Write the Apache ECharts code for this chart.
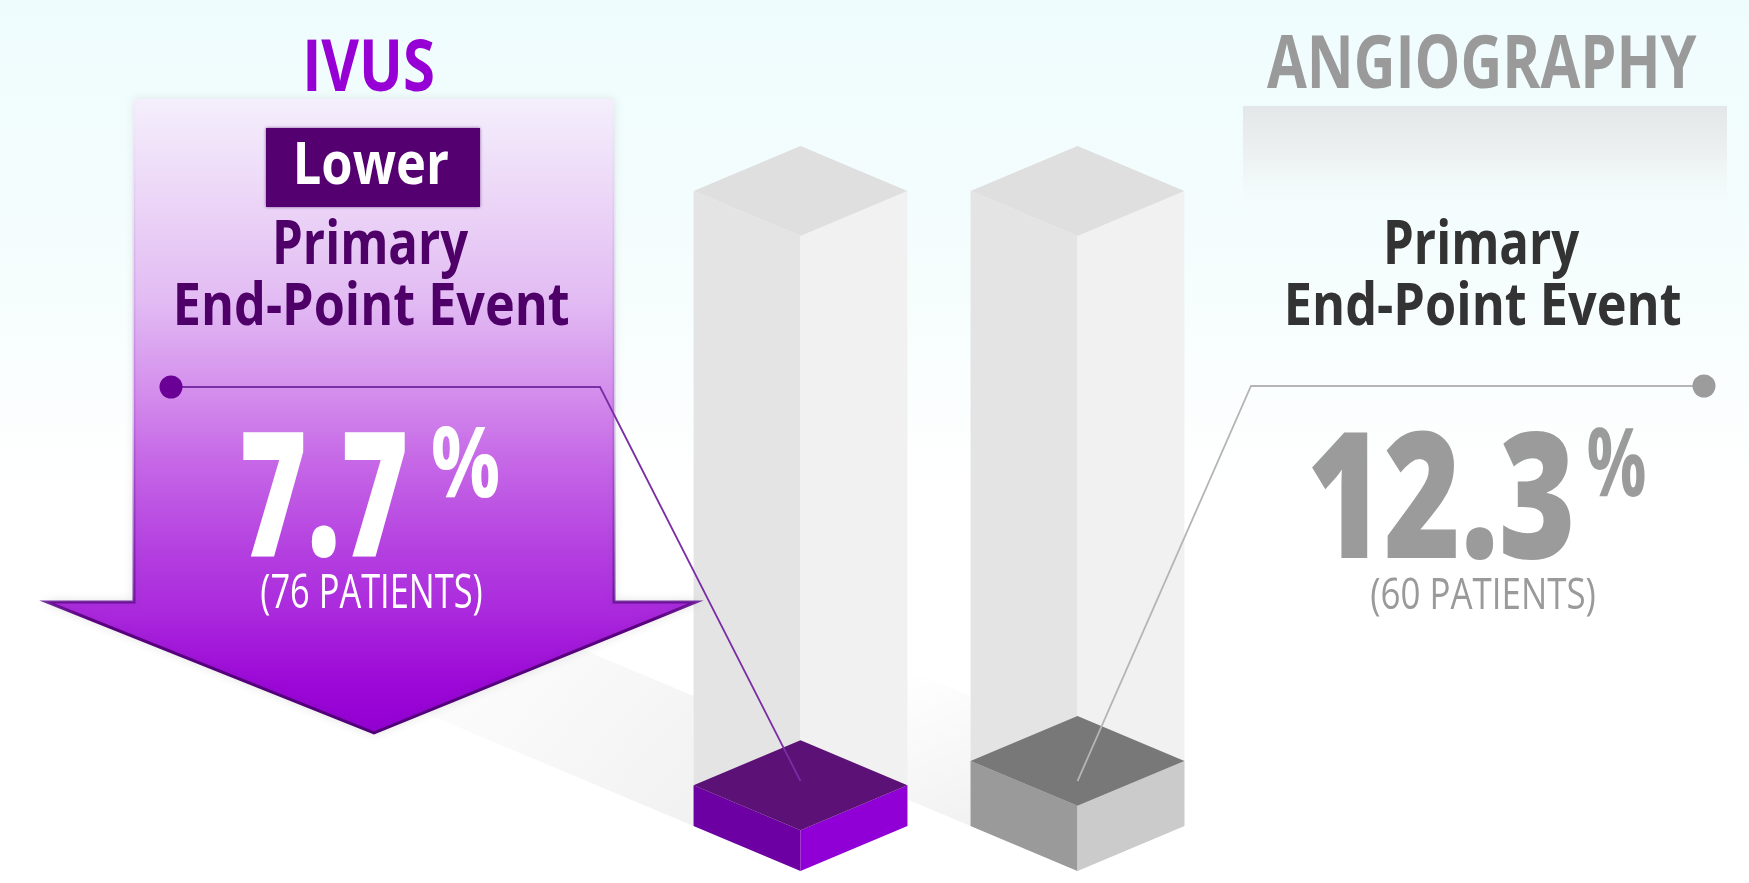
<!DOCTYPE html>
<html>
<head>
<meta charset="utf-8">
<title>IVUS vs Angiography – Primary End-Point Event</title>
<script src="https://cdn.jsdelivr.net/npm/echarts@6/dist/echarts.min.js"></script>
<style>
  html, body { margin: 0; padding: 0; background: #ffffff; }
  #chart { width: 1749px; height: 883px; }
</style>
</head>
<body>
<div id="chart"></div>
<script>
// ---- data ----
const categories = ['IVUS', 'ANGIOGRAPHY'];
const eventRates = [7.7, 12.3];          // primary end-point event rate, %
const patientCounts = [76, 60];          // patients with an event
const trackMax = 120;                    // height of the glass column on the value axis
const headingLines = ['Primary', 'End-Point Event'];
const badgeText = 'Lower';

// ---- look ----
const FONT = '"Open Sans", "Liberation Sans", "DejaVu Sans", sans-serif';
const BOX_HALF = 0.386;   // half box width as a share of the category band
const BOX_DEPTH = 0.42;   // isometric depth offset relative to half width
const slabColors = [
  { top: '#5c1176', left: '#6c00a2', right: '#9000d6' },
  { top: '#787878', left: '#9a9a9a', right: '#cbcbcb' }
];
const leaderStyle = [
  { dotX: 171, elbowX: 600, y: 387, color: '#7a2ea6', dot: '#6a0096' },
  { dotX: 1704, elbowX: 1251, y: 386, color: '#b5b5b5', dot: '#9c9c9c' }
];

const chart = echarts.init(document.getElementById('chart'), null, { renderer: 'canvas' });

// Fit a text run into an ink box (left/right/top/bottom) using a horizontal squeeze.
const mctx = document.createElement('canvas').getContext('2d');
function fitText(text, o) {
  const weight = o.weight || 700;
  const ref = o.ref || text;
  mctx.textAlign = 'left';
  mctx.textBaseline = 'alphabetic';
  mctx.font = weight + ' 100px ' + FONT;
  const r = mctx.measureText(ref);
  const h100 = r.actualBoundingBoxAscent + r.actualBoundingBoxDescent;
  const size = 100 * (o.bottom - o.top) / h100;
  const font = weight + ' ' + size.toFixed(2) + 'px ' + FONT;
  mctx.font = font;
  mctx.textBaseline = 'middle';
  const m = mctx.measureText(text);
  const rm = mctx.measureText(ref);
  const inkW = m.actualBoundingBoxLeft + m.actualBoundingBoxRight;
  const sx = (o.right - o.left) / inkW;
  return {
    type: 'text',
    x: o.left + m.actualBoundingBoxLeft * sx,
    y: o.top + rm.actualBoundingBoxAscent,
    scaleX: sx,
    z: 10,
    silent: true,
    style: {
      text: text,
      font: font,
      fill: o.color,
      textAlign: 'left',
      textVerticalAlign: 'middle'
    }
  };
}

function boxGeom(api, i, v0, v1) {
  const band = api.size([1, 0])[0];
  const hw = band * BOX_HALF;
  const dy = hw * BOX_DEPTH;
  const b = api.coord([i, v0]);
  const t = api.coord([i, v1]);
  return { cx: b[0], yb: b[1], yt: t[1], hw: hw, dy: dy, band: band };
}

function prism(g, colors) {
  const { cx, yb, yt, hw, dy } = g;
  return [
    { type: 'polygon', shape: { points: [[cx - hw, yt], [cx, yt + dy], [cx, yb + dy], [cx - hw, yb]] },
      style: { fill: colors.left } },
    { type: 'polygon', shape: { points: [[cx, yt + dy], [cx + hw, yt], [cx + hw, yb], [cx, yb + dy]] },
      style: { fill: colors.right } },
    { type: 'polygon', shape: { points: [[cx - hw, yt], [cx, yt - dy], [cx + hw, yt], [cx, yt + dy]] },
      style: { fill: colors.top } }
  ];
}

// glass column plus its floor shadow
function renderGlass(params, api) {
  const i = api.value(0);
  const g = boxGeom(api, i, 0, api.value(1));
  const slope = g.dy / g.hw;
  const len = i === 0 ? 265 : g.band - 2 * g.hw;
  const H = 130;
  const x0 = g.cx - g.hw, x1 = x0 - len;
  const shadow = {
    type: 'polygon',
    shape: { points: [[x0, g.yb], [x0, g.yb - H], [x1, g.yb - H - len * slope], [x1, g.yb - len * slope]] },
    style: {
      fill: new echarts.graphic.LinearGradient(1, 1, 0, 0, [
        { offset: 0, color: 'rgba(0,0,0,0.055)' },
        { offset: 0.55, color: 'rgba(0,0,0,0.025)' },
        { offset: 1, color: 'rgba(0,0,0,0)' }
      ])
    }
  };
  return {
    type: 'group',
    children: [shadow].concat(prism(g, { left: '#e4e4e4', right: '#f1f1f1', top: '#dfdfdf' }))
  };
}

// value slab plus the leader line that ties it to its label
function renderSlab(params, api) {
  const i = api.value(0);
  const g = boxGeom(api, i, 0, api.value(1));
  const c = slabColors[i];
  const L = leaderStyle[i];
  const back = [g.cx, g.yb - g.dy];
  const children = prism(g, c);
  children.push({
    type: 'polyline',
    shape: { points: [[L.dotX, L.y], [L.elbowX, L.y], back] },
    style: { stroke: L.color, lineWidth: 1.8, fill: null }
  });
  children.push({
    type: 'circle',
    shape: { cx: L.dotX, cy: L.y, r: 11.5 },
    style: { fill: L.dot }
  });
  return { type: 'group', children: children };
}

const pct = eventRates.map(v => v.toFixed(1));
const patientText = patientCounts.map(n => '(' + n + ' PATIENTS)');

const graphics = [
  // page background
  { type: 'rect', z: 0, silent: true, shape: { x: 0, y: 0, width: 1749, height: 883 },
    style: { fill: new echarts.graphic.LinearGradient(0, 0, 0, 1, [
      { offset: 0, color: '#effcfd' },
      { offset: 0.3, color: '#f5fdfd' },
      { offset: 0.55, color: '#ffffff' },
      { offset: 1, color: '#ffffff' }
    ]) } },
  // heading band behind the angiography block
  { type: 'rect', z: 1, silent: true, shape: { x: 1243, y: 106, width: 484, height: 112 },
    style: { fill: new echarts.graphic.LinearGradient(0, 0, 0, 1, [
      { offset: 0, color: '#e3e7e7' },
      { offset: 0.45, color: '#edf1f1' },
      { offset: 1, color: 'rgba(245,252,252,0)' }
    ]) } },
  // downward arrow
  { type: 'polygon', z: 3, silent: true,
    shape: { points: [[134, 99], [614, 99], [614, 602], [696, 602], [374, 733], [47, 602], [134, 602]] },
    style: {
      fill: new echarts.graphic.LinearGradient(0, 0, 0, 1, [
        { offset: 0, color: '#f4effc' },
        { offset: 0.16, color: '#ecd6f7' },
        { offset: 0.32, color: '#e2bbf3' },
        { offset: 0.45, color: '#d592ed' },
        { offset: 0.56, color: '#c76be7' },
        { offset: 0.71, color: '#b440e0' },
        { offset: 0.8, color: '#ab2bdd' },
        { offset: 0.92, color: '#9c08d7' },
        { offset: 1, color: '#9300d2' }
      ]),
      stroke: new echarts.graphic.LinearGradient(0, 0, 0, 1, [
        { offset: 0, color: 'rgba(160,90,210,0)' },
        { offset: 0.5, color: 'rgba(140,60,190,0.25)' },
        { offset: 0.78, color: 'rgba(100,20,150,0.8)' },
        { offset: 0.82, color: '#5a007f' },
        { offset: 1, color: '#52007a' }
      ]),
      lineWidth: 3,
      shadowBlur: 10,
      shadowColor: 'rgba(0,0,0,0.09)'
    } },
  // badge
  { type: 'rect', z: 4, silent: true, shape: { x: 266, y: 128, width: 214, height: 79 },
    style: { fill: '#540071', shadowBlur: 3, shadowColor: 'rgba(60,0,90,0.6)' } },

  fitText(categories[0], { left: 307, right: 433, top: 38, bottom: 91, color: '#9600d4' }),
  fitText(categories[1], { left: 1267, right: 1697, top: 34, bottom: 88, color: '#9a9a9a' }),
  fitText(badgeText, { left: 297, right: 448, top: 142, bottom: 185, ref: 'L', color: '#ffffff' }),

  fitText(headingLines[0], { left: 276, right: 469, top: 220, bottom: 265, ref: 'P', color: '#4e0068' }),
  fitText(headingLines[1], { left: 177, right: 568, top: 283, bottom: 326, ref: 'E', color: '#4e0068' }),
  fitText(headingLines[0], { left: 1387, right: 1580, top: 220, bottom: 265, ref: 'P', color: '#333333' }),
  fitText(headingLines[1], { left: 1288, right: 1680, top: 283, bottom: 326, ref: 'E', color: '#333333' }),

  fitText(pct[0], { left: 243, right: 405, top: 432, bottom: 556, weight: 800, ref: '7', color: '#ffffff' }),
  fitText('%', { left: 433, right: 498, top: 425, bottom: 498, color: '#ffffff' }),
  fitText(patientText[0], { left: 261, right: 482, top: 573, bottom: 615, weight: 400, color: '#ffffff' }),

  fitText(pct[1], { left: 1312, right: 1571, top: 430, bottom: 557, weight: 800, ref: '2', color: '#9b9b9b' }),
  fitText('%', { left: 1588, right: 1645, top: 427, bottom: 498, color: '#9b9b9b' }),
  fitText(patientText[1], { left: 1371, right: 1595, top: 577, bottom: 617, weight: 400, color: '#9a9a9a' })
];

const option = {
  animation: false,
  backgroundColor: '#ffffff',
  grid: { left: 662, top: 191, width: 554, height: 635, containLabel: false },
  xAxis: { type: 'category', data: categories, show: false, boundaryGap: true },
  yAxis: { type: 'value', min: 0, max: trackMax, show: false },
  graphic: { elements: graphics },
  series: [
    {
      type: 'custom', name: 'track', z: 2, silent: true, clip: false,
      renderItem: renderGlass,
      data: categories.map((c, i) => [i, trackMax])
    },
    {
      type: 'custom', name: 'event rate', z: 5, silent: true, clip: false,
      renderItem: renderSlab,
      data: categories.map((c, i) => [i, eventRates[i]])
    }
  ]
};

chart.setOption(option);
</script>
</body>
</html>
